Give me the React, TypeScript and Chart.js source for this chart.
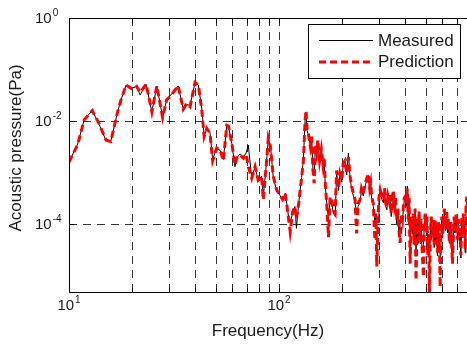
import React, { useEffect, useRef } from 'react';
import { Chart, registerables } from 'chart.js';

Chart.register(...registerables);

// ---------------- data ----------------
const frequencies = [
  10, 11, 11.8, 12.9, 13.9, 15, 15.8, 17.1, 17.7, 18.7,
  20.1, 21, 21.8, 23.3, 24.8, 26.2, 27.9, 29.2, 30.5, 33.1,
  35, 36.3, 37.7, 39.8, 41.3, 42.9, 44, 45.3, 46.9, 48.3,
  50.5, 52.4, 54.3, 56.4, 57.4, 59.6, 61.7, 62.8, 65.2, 67.6,
  69.7, 71.4, 74.1, 76.9, 79.6, 82.6, 84.1, 87.3, 88.9, 91,
  93.9, 97.5, 101, 104, 107, 111, 113, 116, 119, 121,
  124, 128, 130.6, 133, 134.5, 136, 138, 141, 143, 145,
  147, 149, 151, 153, 156, 159, 162, 164, 166, 169,
  172, 175, 178, 181, 185, 188, 192, 195, 199, 202,
  206, 210, 214, 218, 222, 226, 230, 234, 238, 243,
  247, 252, 258, 262, 266, 270, 273, 276, 281, 286,
  289, 292, 296, 299, 303, 308, 314, 318, 322, 326,
  330, 334, 338, 342, 346, 350, 354, 358, 363, 368,
  372, 377, 383, 387, 391, 395, 400, 404, 408, 412,
  416, 421, 426, 431, 436, 440, 444, 449, 454, 459,
  464, 469, 474, 480, 487, 492, 497, 501, 506, 511,
  516, 520, 525, 530, 536, 543, 548, 553, 558, 563,
  568, 574, 580, 585, 590, 596, 601, 606, 612, 618,
  623, 629, 635, 640, 646, 652, 658, 664, 670, 676,
  682, 688, 694, 701, 707, 713, 720, 727, 734, 741,
  748, 755, 762, 769, 776, 783, 790,
];

const measured = [
  1.6e-3, 3.6e-3, 1.05e-2, 1.6e-2, 8.7e-3, 4.2e-3, 4.0e-3, 1.6e-2, 2.6e-2, 5.0e-2,
  4.4e-2, 4.7e-2, 3.2e-2, 5.2e-2, 1.5e-2, 4.8e-2, 1.2e-2, 2.6e-2, 3.2e-2, 4.8e-2,
  1.7e-2, 2.1e-2, 2.0e-2, 5.6e-2, 5.0e-2, 1.7e-2, 5.2e-3, 7.0e-3, 6.0e-3, 1.8e-3,
  3.0e-3, 2.7e-3, 1.8e-3, 8.3e-3, 8.0e-3, 3.6e-3, 1.3e-3, 1.9e-3, 2.3e-3, 2.0e-3,
  2.4e-3, 3.4e-3, 8.0e-4, 1.3e-3, 6.8e-4, 8.5e-4, 3.3e-4, 1.7e-3, 4.4e-3, 3.3e-3,
  7.9e-4, 4.4e-4, 3.6e-4, 2.9e-4, 4.0e-4, 1.4e-4, 1.1e-4, 1.6e-4, 2.2e-4, 8.3e-5,
  2.5e-4, 8.0e-4, 1.8e-3, 1.0e-2, 1.5e-2, 6.5e-3, 5.4e-3, 3.3e-3, 4.8e-3, 1.2e-3,
  9.0e-4, 3.3e-3, 2.4e-3, 4.1e-3, 1.6e-3, 2.7e-3, 1.3e-3, 1.8e-3, 5.5e-4, 2.4e-4,
  1.26e-4, 3.2e-4, 2.6e-4, 1.7e-4, 1.4e-4, 1.0e-3, 4.5e-4, 9.0e-4, 6.5e-4, 1.4e-3,
  1.6e-3, 9.0e-4, 2.4e-3, 7.5e-4, 4.6e-4, 3.5e-4, 2.6e-4, 1.6e-4, 2.2e-4, 2.7e-4,
  4.5e-4, 3.5e-4, 5.8e-4, 7.2e-4, 8.8e-4, 4.4e-4, 5.6e-4, 3.0e-4, 2.2e-4, 1.1e-4,
  1.4e-4, 1.26e-4, 1.1e-4, 2.9e-4, 4.2e-4, 3.1e-4, 2.6e-4, 4.4e-4, 2.2e-4, 1.9e-4,
  3.1e-4, 2.5e-4, 3.6e-4, 1.4e-4, 2.9e-4, 4.2e-4, 2.2e-4, 3.1e-4, 1.0e-4, 1.8e-4,
  7.0e-5, 1.0e-4, 1.4e-4, 1.1e-4, 2.0e-4, 2.9e-4, 3.1e-4, 2.2e-4, 5.5e-4, 1.1e-4,
  2.9e-4, 6.3e-5, 1.2e-4, 6.5e-5, 1.4e-4, 5.0e-5, 1.8e-4, 3.2e-5, 1.1e-4, 4.2e-5,
  1.6e-4, 4.2e-5, 1.1e-4, 2.8e-5, 4.0e-5, 9.5e-5, 1.4e-4, 6.8e-5, 1.2e-4, 3.0e-5,
  5.5e-5, 2.5e-5, 5.5e-5, 1.2e-4, 6.8e-5, 1.05e-4, 3.5e-5, 1.1e-4, 4.8e-5, 8.8e-5,
  2.4e-5, 9.5e-5, 4.3e-5, 2.5e-5, 6.8e-5, 1.2e-4, 5.5e-5, 1.05e-4, 1.8e-4, 7.6e-5,
  1.4e-4, 1.4e-4, 6.8e-5, 1.1e-4, 4.3e-5, 4.2e-5, 9.5e-5, 3.0e-5, 2.5e-5, 5.5e-5,
  1.2e-4, 6.8e-5, 1.4e-4, 1.05e-4, 4.3e-5, 1.1e-4, 4.8e-5, 7.6e-5, 2.2e-5, 1.2e-4,
  5.5e-5, 1.4e-4, 8.8e-5, 2.8e-5, 1.8e-4, 3.0e-4, 1.8e-4,
];

const prediction = [
  1.6e-3, 3.5e-3, 1.05e-2, 1.6e-2, 8.9e-3, 4.3e-3, 4.0e-3, 1.6e-2, 2.6e-2, 5.0e-2,
  4.1e-2, 4.7e-2, 3.6e-2, 5.2e-2, 1.5e-2, 4.8e-2, 1.17e-2, 2.6e-2, 3.1e-2, 4.8e-2,
  1.7e-2, 2.2e-2, 1.9e-2, 5.6e-2, 5.0e-2, 1.6e-2, 5.0e-3, 7.2e-3, 5.8e-3, 1.7e-3,
  3.0e-3, 2.8e-3, 1.7e-3, 8.3e-3, 8.0e-3, 3.7e-3, 1.4e-3, 1.9e-3, 2.2e-3, 1.9e-3,
  2.3e-3, 1.3e-3, 7.8e-4, 1.3e-3, 7.1e-4, 8.3e-4, 3.0e-4, 1.7e-3, 4.6e-3, 3.2e-3,
  8.3e-4, 4.6e-4, 3.6e-4, 3.0e-4, 4.0e-4, 1.3e-4, 7.1e-5, 1.7e-4, 2.2e-4, 1.26e-4,
  2.5e-4, 7.9e-4, 1.7e-3, 1.0e-2, 1.6e-2, 6.8e-3, 5.6e-3, 3.2e-3, 5.0e-3, 1.1e-3,
  6.2e-4, 3.5e-3, 2.5e-3, 4.3e-3, 1.7e-3, 2.8e-3, 1.4e-3, 2.0e-3, 6.2e-4, 2.2e-4,
  5.6e-5, 3.4e-4, 3.0e-4, 1.9e-4, 1.6e-4, 1.1e-3, 5.0e-4, 9.5e-4, 7.1e-4, 1.5e-3,
  1.7e-3, 9.5e-4, 2.0e-3, 8.3e-4, 5.2e-4, 4.0e-4, 3.0e-4, 6.6e-5, 2.5e-4, 3.0e-4,
  5.0e-4, 4.0e-4, 6.3e-4, 7.9e-4, 9.5e-4, 5.0e-4, 6.3e-4, 3.4e-4, 2.5e-4, 4.9e-5,
  1.6e-4, 1.5e-5, 1.26e-4, 3.2e-4, 4.6e-4, 3.5e-4, 3.0e-4, 5.0e-4, 2.5e-4, 2.2e-4,
  3.5e-4, 2.8e-4, 4.0e-4, 1.6e-4, 3.2e-4, 4.6e-4, 2.5e-4, 3.5e-4, 1.2e-4, 2.0e-4,
  7.9e-5, 4.3e-5, 1.6e-4, 1.26e-4, 2.2e-4, 3.2e-4, 3.5e-4, 2.5e-4, 4.9e-4, 1.26e-4,
  3.2e-4, 1.7e-5, 1.4e-4, 7.6e-5, 1.6e-4, 4.0e-5, 2.0e-4, 8.1e-6, 1.26e-4, 4.9e-5,
  1.8e-4, 4.9e-5, 1.26e-4, 3.2e-5, 9.5e-6, 1.1e-4, 1.6e-4, 7.9e-5, 1.4e-4, 2.5e-5,
  6.3e-5, 4.2e-6, 6.3e-5, 1.4e-4, 7.9e-5, 1.2e-4, 4.0e-5, 1.26e-4, 5.6e-5, 1.0e-4,
  2.8e-5, 1.1e-4, 5.0e-5, 6.0e-6, 7.9e-5, 1.4e-4, 6.3e-5, 1.2e-4, 2.0e-4, 8.9e-5,
  1.6e-4, 1.6e-4, 7.9e-5, 1.26e-4, 5.0e-5, 4.9e-5, 1.1e-4, 3.5e-5, 1.7e-5, 6.3e-5,
  1.4e-4, 7.9e-5, 1.6e-4, 1.2e-4, 5.0e-5, 1.26e-4, 5.6e-5, 8.9e-5, 2.5e-5, 1.4e-4,
  6.3e-5, 1.6e-4, 1.0e-4, 3.2e-5, 2.0e-4, 3.4e-4, 2.0e-4,
];

const seriesNames = ['Measured', 'Prediction'];
const xTitle = 'Frequency(Hz)';
const yTitle = 'Acoustic pressure(Pa)';

const xMin = 10;
const xMax = 785;
const yMin = 4.6e-6;
const yMax = 1;

const xTickValues = [10, 20, 30, 40, 50, 60, 70, 80, 90, 100, 200, 300, 400, 500, 600, 700];
const xGridValues = [20, 30, 40, 50, 60, 70, 80, 90, 100, 200, 300, 400, 500, 600, 700];
const xLabelValues = [10, 100];
const xLabelExponents = ['1', '2'];
const yTickValues = [1, 1e-2, 1e-4];
const yGridValues = [1e-2, 1e-4];
const yLabelValues = [1, 1e-2, 1e-4];
const yLabelExponents = ['0', '-2', '-4'];

const FONT = '"Liberation Sans", Arial, Helvetica, sans-serif';
const TEXT = '#1a1a1a';

const matlabAxes = {
  id: 'matlabAxes',
  beforeDatasetsDraw(chart: any) {
    const { ctx, chartArea: a, scales } = chart;
    const x = scales.x;
    const y = scales.y;
    ctx.save();
    ctx.strokeStyle = 'rgba(0,0,0,0.8)';
    ctx.lineWidth = 1;
    ctx.setLineDash([8, 6]);
    for (const v of xGridValues) {
      const px = Math.round(x.getPixelForValue(v)) + 0.5;
      ctx.beginPath();
      ctx.moveTo(px, a.top);
      ctx.lineTo(px, a.bottom);
      ctx.stroke();
    }
    for (const v of yGridValues) {
      const py = Math.round(y.getPixelForValue(v)) + 0.5;
      ctx.beginPath();
      ctx.moveTo(a.left, py);
      ctx.lineTo(a.right, py);
      ctx.stroke();
    }
    ctx.restore();
  },
  afterDatasetsDraw(chart: any) {
    const { ctx, chartArea: a, scales } = chart;
    const x = scales.x;
    const y = scales.y;
    const L = Math.round(a.left) + 0.5;
    const T = Math.round(a.top) + 0.5;
    const B = Math.round(a.bottom) - 0.5;
    const R = a.right + 2;
    ctx.save();
    ctx.setLineDash([]);
    ctx.strokeStyle = '#000';
    ctx.lineWidth = 1;
    // box
    ctx.beginPath();
    ctx.moveTo(R, T);
    ctx.lineTo(L, T);
    ctx.lineTo(L, B);
    ctx.lineTo(R, B);
    ctx.stroke();
    // ticks (inward)
    for (const v of xTickValues) {
      const px = Math.round(x.getPixelForValue(v)) + 0.5;
      ctx.beginPath();
      ctx.moveTo(px, B);
      ctx.lineTo(px, B - 5);
      ctx.moveTo(px, T);
      ctx.lineTo(px, T + 5);
      ctx.stroke();
    }
    for (const v of yTickValues) {
      const py = Math.round(y.getPixelForValue(v)) + 0.5;
      ctx.beginPath();
      ctx.moveTo(L, py);
      ctx.lineTo(L + 5, py);
      ctx.stroke();
    }
    // tick labels
    ctx.fillStyle = TEXT;
    ctx.textBaseline = 'middle';
    ctx.textAlign = 'left';
    const baseFont = `15px ${FONT}`;
    const expFont = `10px ${FONT}`;
    xLabelValues.forEach((v, i) => {
      const px = x.getPixelForValue(v);
      ctx.font = baseFont;
      const w1 = ctx.measureText('10').width;
      ctx.font = expFont;
      const w2 = ctx.measureText(xLabelExponents[i]).width;
      const start = px - (w1 + w2 + 1) / 2;
      ctx.font = baseFont;
      ctx.fillText('10', start, a.bottom + 13);
      ctx.font = expFont;
      ctx.fillText(xLabelExponents[i], start + w1 + 1, a.bottom + 7);
    });
    yLabelValues.forEach((v, i) => {
      const py = y.getPixelForValue(v);
      ctx.font = baseFont;
      const w1 = ctx.measureText('10').width;
      const start = 35;
      ctx.fillText('10', start, py + 1);
      ctx.font = expFont;
      ctx.fillText(yLabelExponents[i], start + w1 + 1, py - 5);
    });
    // axis titles
    ctx.font = `17px ${FONT}`;
    ctx.textAlign = 'center';
    ctx.fillText(xTitle, (a.left + a.right) / 2, 331);
    ctx.save();
    ctx.translate(16, 148);
    ctx.rotate(-Math.PI / 2);
    ctx.fillText(yTitle, 0, 0);
    ctx.restore();
    // legend
    const lx = 308.5;
    const ly = 24.5;
    ctx.fillStyle = '#fff';
    ctx.fillRect(lx, ly, 152, 54);
    ctx.strokeStyle = '#000';
    ctx.lineWidth = 1;
    ctx.strokeRect(lx, ly, 152, 54);
    const rows = [40.5, 62];
    chart.data.datasets.forEach((ds: any) => {
      const idx = seriesNames.indexOf(ds.label);
      const yy = rows[idx];
      ctx.save();
      ctx.strokeStyle = ds.borderColor;
      ctx.lineWidth = ds.borderWidth;
      ctx.setLineDash(ds.borderDash || []);
      ctx.beginPath();
      ctx.moveTo(319, yy);
      ctx.lineTo(373, yy);
      ctx.stroke();
      ctx.restore();
      ctx.fillStyle = TEXT;
      ctx.font = `17px ${FONT}`;
      ctx.textAlign = 'left';
      ctx.textBaseline = 'middle';
      ctx.fillText(ds.label, 378, yy + 0.5);
    });
    ctx.restore();
  },
};

export default function App() {
  const ref = useRef<HTMLCanvasElement | null>(null);
  useEffect(() => {
    if (!ref.current) return;
    const chart = new Chart(ref.current, {
      type: 'line',
      data: {
        datasets: [
          {
            label: seriesNames[1],
            data: frequencies.map((f, i) => ({ x: f, y: prediction[i] })),
            borderColor: '#ff0000',
            borderWidth: 3,
            borderDash: [7, 4],
            pointRadius: 0,
            tension: 0,
            fill: false,
            order: 0,
          },
          {
            label: seriesNames[0],
            data: frequencies.map((f, i) => ({ x: f, y: measured[i] })),
            borderColor: '#000000',
            borderWidth: 1,
            pointRadius: 0,
            tension: 0,
            fill: false,
            order: 1,
          },
        ],
      },
      options: {
        responsive: false,
        animation: false,
        events: [],
        layout: { padding: { top: 18, right: 0, bottom: 0, left: 0 } },
        plugins: { legend: { display: false }, tooltip: { enabled: false } },
        scales: {
          x: {
            type: 'logarithmic',
            min: xMin,
            max: xMax,
            grid: { display: false },
            border: { display: false },
            ticks: { display: false },
            afterFit: (s: any) => {
              s.height = 57;
            },
          },
          y: {
            type: 'logarithmic',
            min: yMin,
            max: yMax,
            grid: { display: false },
            border: { display: false },
            ticks: { display: false },
            afterFit: (s: any) => {
              s.width = 69;
            },
          },
        },
      },
      plugins: [matlabAxes],
    });
    return () => chart.destroy();
  }, []);
  return (
    <div style={{ position: 'fixed', left: 0, top: 0, width: 467, height: 350, background: '#fff' }}>
      <canvas ref={ref} width={467} height={350} style={{ display: 'block' }} />
    </div>
  );
}
